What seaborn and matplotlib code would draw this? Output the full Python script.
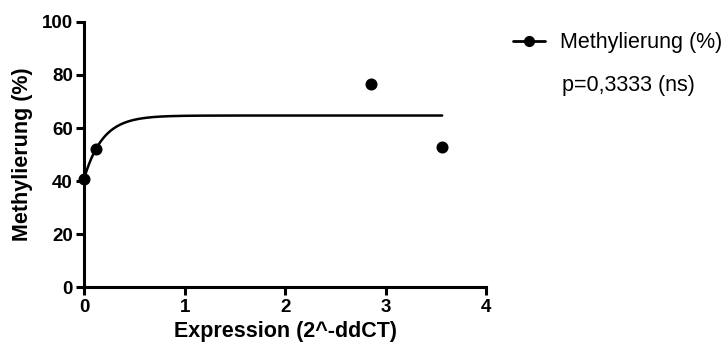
import matplotlib
matplotlib.use("Agg")
import matplotlib.pyplot as plt
import numpy as np
import pandas as pd
import seaborn as sns
from matplotlib.lines import Line2D

# ===== DATA =====
expression = [0.0, 0.12, 2.85, 3.56]
methylation = [40.8, 52.1, 76.5, 52.8]

# one-phase association fit
fit_y0 = 40.8
fit_plateau = 64.7
fit_k = 5.4

x_ticks = [0, 1, 2, 3, 4]
y_ticks = [0, 20, 40, 60, 80, 100]
p_text = "p=0,3333 (ns)"
series_name = "Methylierung (%)"

# ===== PLOT =====
sns.set_theme(style="ticks")
plt.rcParams["font.family"] = ["Liberation Sans", "DejaVu Sans"]
plt.rcParams["text.color"] = "black"
plt.rcParams["axes.labelcolor"] = "black"
plt.rcParams["xtick.color"] = "black"
plt.rcParams["ytick.color"] = "black"

fig = plt.figure(figsize=(7.26, 3.5), dpi=100)
ax = fig.add_axes([0.1157, 0.1786, 0.5543, 0.7594])

points = pd.DataFrame({"x": expression, "y": methylation})
fit_x = np.linspace(min(expression), max(expression), 300)
curve = pd.DataFrame({"x": fit_x, "y": fit_y0 + (fit_plateau - fit_y0) * (1 - np.exp(-fit_k * fit_x))})

sns.lineplot(data=curve, x="x", y="y", color="black", linewidth=1.8, ax=ax)
sns.scatterplot(data=points, x="x", y="y", color="black", s=75, linewidth=0, ax=ax, zorder=3, clip_on=False)

ax.set_xlim(0, 4)
ax.set_ylim(0, 100)
ax.set_xticks(x_ticks)
ax.set_yticks(y_ticks)
ax.tick_params(axis="both", direction="out", length=6, width=2.2, labelsize=13.5, pad=2,
               color="black", labelcolor="black")
for lbl in ax.get_xticklabels() + ax.get_yticklabels():
    lbl.set_fontweight("bold")
for side in ["left", "bottom"]:
    ax.spines[side].set_linewidth(2.2)
    ax.spines[side].set_color("black")
sns.despine(ax=ax)

ax.set_xlabel("Expression (2^-ddCT)", fontsize=15.5, fontweight="bold", labelpad=4, color="black")
ax.set_ylabel("Methylierung (%)", fontsize=15.5, fontweight="bold", labelpad=6, color="black")

handle = Line2D([], [], color="black", marker="o", markersize=7, linewidth=2)
fig.legend([handle], [series_name], loc="center left", bbox_to_anchor=(0.7066, 0.878),
           frameon=False, fontsize=15.5, handlelength=1.5, handletextpad=0.7,
           borderpad=0, borderaxespad=0, labelcolor="black")
fig.text(0.774, 0.757, p_text, fontsize=15.5, va="center", ha="left", color="black")

fig.savefig("out.png", dpi=100)
